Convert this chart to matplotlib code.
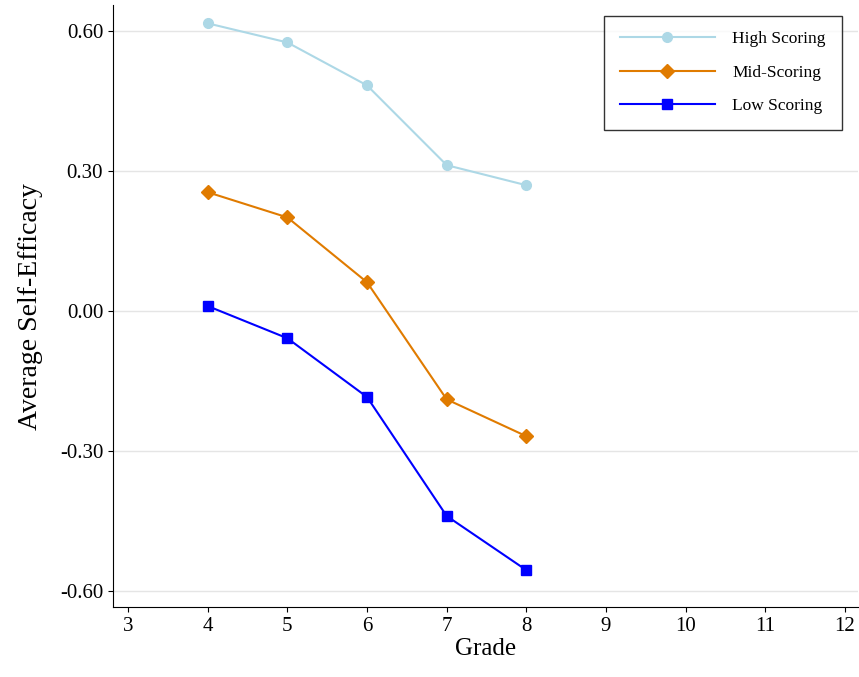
import matplotlib.pyplot as plt

plt.rcParams['font.family'] = ['Liberation Serif', 'DejaVu Serif']

grades = [4, 5, 6, 7, 8]
high = [0.617, 0.576, 0.484, 0.313, 0.270]
mid = [0.255, 0.201, 0.062, -0.189, -0.268]
low = [0.011, -0.058, -0.184, -0.439, -0.555]

fig = plt.figure(figsize=(8.59, 6.77), dpi=100)
ax = fig.add_axes([0.1315, 0.1034, 0.867, 0.889])

ax.plot(grades, high, color='#add8e6', marker='o', markersize=7, lw=1.5, label='High Scoring')
ax.plot(grades, mid, color='#e07b00', marker='D', markersize=7, lw=1.5, label='Mid-Scoring')
ax.plot(grades, low, color='#0000ff', marker='s', markersize=7, lw=1.5, label='Low Scoring')

ax.set_xlim(2.81, 12.16)
ax.set_ylim(-0.634, 0.656)
ax.set_xticks(range(3, 13))
ax.set_yticks([-0.6, -0.3, 0.0, 0.3, 0.6])
ax.set_yticklabels(['-0.60', '-0.30', '0.00', '0.30', '0.60'])
ax.yaxis.grid(True, color='#e5e5e5', lw=1)
ax.set_axisbelow(True)
for s in ['top', 'right']:
    ax.spines[s].set_visible(False)
ax.tick_params(labelsize=15)
ax.set_xlabel('Grade', fontsize=18, labelpad=2)
ax.set_ylabel('Average Self-Efficacy', fontsize=20, labelpad=12)

leg = ax.legend(loc='upper right', fontsize=12.5, fancybox=False, edgecolor='black',
                handlelength=5.5, borderpad=0.9, labelspacing=1.0, handletextpad=1.0,
                bbox_to_anchor=(0.99, 0.997))
leg.get_frame().set_linewidth(1)

fig.savefig('out.png', dpi=100)
